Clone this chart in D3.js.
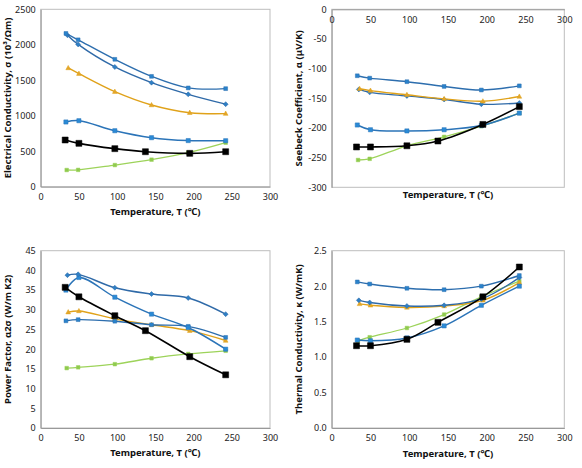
<!DOCTYPE html>
<html>
<head>
<meta charset="utf-8">
<script src="https://cdn.jsdelivr.net/npm/d3@7/dist/d3.min.js"></script>
<style>
  body { margin: 0; background: #fff; }
  svg { display: block; font-family: "Noto Sans", "Open Sans", sans-serif; }
  .tick text { font-size: 9px; fill: #222; }
  .ttl { font-size: 9.5px; font-weight: bold; fill: #111; }
</style>
</head>
<body>
<svg id="chart" width="582" height="468"></svg>
<script>
// ---- Data (temperatures in °C) ----
const tempBlack  = [32, 50, 97, 137, 195, 242];
const tempBlueA  = [33, 49, 97, 145, 193, 242];
const tempBlueB  = [35, 49, 97, 145, 193, 242];
const tempBlueC  = [33, 50, 97, 145, 193, 242];
const tempOrange = [36, 50, 97, 145, 195, 242];
const tempGreen  = [34, 49, 97, 145, 193, 242];

// Electrical conductivity σ (10^3/Ωm)
const sigmaBlueA  = [2160, 2070, 1795, 1555, 1392, 1382];
const sigmaBlueB  = [2135, 2005, 1687, 1466, 1302, 1163];
const sigmaOrange = [1673, 1593, 1339, 1151, 1043, 1030];
const sigmaBlueC  = [912, 930, 789, 691, 650, 648];
const sigmaBlack  = [658, 611, 536, 493, 470, 493];
const sigmaGreen  = [235, 237, 305, 381, 479, 620];

// Seebeck coefficient α (μV/K)
const seebeckBlueA  = [-112, -116, -122, -130, -136, -129];
const seebeckOrange = [-134, -137, -144, -151, -155, -147];
const seebeckBlueB  = [-135, -140, -146, -152, -160, -158];
const seebeckBlueC  = [-195, -203, -205, -203, -196, -175];
const seebeckBlack  = [-232, -232, -230, -222, -194, -164];
const seebeckGreen  = [-254, -252, -230, -215, -197, -175];

// Power factor α²σ
const pfBlueB  = [38.8, 39.0, 35.6, 34.0, 33.0, 28.9];
const pfBlueC  = [35.0, 38.2, 33.2, 28.9, 25.5, 20.0];
const pfBlack  = [35.7, 33.3, 28.5, 24.7, 18.1, 13.5];
const pfOrange = [29.4, 29.7, 27.7, 26.2, 24.7, 22.2];
const pfBlueA  = [27.2, 27.5, 27.1, 26.2, 25.8, 23.0];
const pfGreen  = [15.2, 15.4, 16.2, 17.7, 18.8, 19.6];

// Thermal conductivity κ (W/mK)
const kappaBlueA  = [2.06, 2.03, 1.97, 1.95, 2.00, 2.15];
const kappaBlueB  = [1.80, 1.77, 1.72, 1.73, 1.82, 2.12];
const kappaOrange = [1.75, 1.73, 1.70, 1.72, 1.80, 2.05];
const kappaGreen  = [1.23, 1.28, 1.41, 1.60, 1.85, 2.07];
const kappaBlack  = [1.16, 1.16, 1.25, 1.49, 1.85, 2.27];
const kappaBlueC  = [1.24, 1.23, 1.27, 1.44, 1.73, 2.00];

const xTicks = [0, 50, 100, 150, 200, 250, 300];
const xTitle = "Temperature, T (\u2103)";

// ---- Styles ----
const styles = {
  black:  { line: "#000000", fill: "#000000", shape: "square", size: 6, width: 1.6 },
  green:  { line: "#9dd35a", fill: "#8fca4e", shape: "square", size: 3.6, width: 1.3 },
  orange: { line: "#e0a21a", fill: "#e3a62a", shape: "triangle", size: 4.3, width: 1.4 },
  blueA:  { line: "#2d6eae", fill: "#2a83cc", shape: "square", size: 3.8, width: 1.4 },
  blueB:  { line: "#2f6aa8", fill: "#2f7fc4", shape: "diamond", size: 4, width: 1.4 },
  blueC:  { line: "#2b74b8", fill: "#2a8ad6", shape: "square", size: 4.2, width: 1.5 }
};

function mk(name, xs, ys) { return { name, pts: xs.map((x, i) => [x, ys[i]]) }; }

const panels = [
  { x0: 40.7, x1: 270, y0: 9.3, y1: 186.7, yDomain: [0, 2500], yTicks: [0,500,1000,1500,2000,2500],
    yFmt: d => d, xAxisTop: false, xLabY: 197, titleY: 215,
    ylabel: "Electrical Conductivity, \u03c3 (10\u00b3/\u03a9m)",
    series: [mk("green", tempGreen, sigmaGreen), mk("blueC", tempBlueC, sigmaBlueC), mk("orange", tempOrange, sigmaOrange),
             mk("blueB", tempBlueB, sigmaBlueB), mk("blueA", tempBlueA, sigmaBlueA), mk("black", tempBlack, sigmaBlack)] },
  { x0: 331.7, x1: 564.3, y0: 9.3, y1: 187.3, yDomain: [-300, 0], yTicks: [-300,-250,-200,-150,-100,-50,0],
    yFmt: d => d, xAxisTop: true, xLabY: 20, titleY: 198,
    ylabel: "Seebeck Coefficient, \u03b1 (\u03bcV/K)",
    series: [mk("green", tempGreen, seebeckGreen), mk("blueC", tempBlueC, seebeckBlueC), mk("blueB", tempBlueB, seebeckBlueB),
             mk("orange", tempOrange, seebeckOrange), mk("blueA", tempBlueA, seebeckBlueA), mk("black", tempBlack, seebeckBlack)] },
  { x0: 40.7, x1: 270, y0: 250.7, y1: 428, yDomain: [0, 45], yTicks: [0,5,10,15,20,25,30,35,40,45],
    yFmt: d => d, xAxisTop: false, xLabY: 437.5, titleY: 456,
    ylabel: "Power Factor, \u03b12\u03c3 (W/m K2)",
    series: [mk("green", tempGreen, pfGreen), mk("orange", tempOrange, pfOrange), mk("blueA", tempBlueA, pfBlueA),
             mk("blueC", tempBlueC, pfBlueC), mk("blueB", tempBlueB, pfBlueB), mk("black", tempBlack, pfBlack)] },
  { x0: 331.7, x1: 564.3, y0: 250.7, y1: 428, yDomain: [0, 2.5], yTicks: [0,0.5,1,1.5,2,2.5],
    yFmt: d3.format(".1f"), xAxisTop: false, xLabY: 437.5, titleY: 456.5,
    ylabel: "Thermal Conductivity, \u03ba (W/mK)",
    series: [mk("green", tempGreen, kappaGreen), mk("orange", tempOrange, kappaOrange), mk("blueB", tempBlueB, kappaBlueB),
             mk("blueA", tempBlueA, kappaBlueA), mk("blueC", tempBlueC, kappaBlueC), mk("black", tempBlack, kappaBlack)] }
];

const svg = d3.select("#chart");

function markerPath(shape, s) {
  if (shape === "square") return `M${-s/2},${-s/2}h${s}v${s}h${-s}Z`;
  if (shape === "diamond") return `M0,${-s/1.6}L${s/1.6},0L0,${s/1.6}L${-s/1.6},0Z`;
  if (shape === "triangle") return `M0,${-s*0.6}L${s*0.55},${s*0.4}L${-s*0.55},${s*0.4}Z`;
}

panels.forEach(p => {
  const x = d3.scaleLinear().domain([0, 300]).range([p.x0, p.x1]);
  const y = d3.scaleLinear().domain(p.yDomain).range([p.y1, p.y0]);
  const g = svg.append("g");

  // plot box
  g.append("rect").attr("x", p.x0).attr("y", p.y0).attr("width", p.x1 - p.x0).attr("height", p.y1 - p.y0)
    .attr("fill", "none").attr("stroke", "#bdbdbd").attr("stroke-width", 1);

  // y axis
  const ya = g.append("g").attr("transform", `translate(${p.x0},0)`)
    .call(d3.axisLeft(y).tickValues(p.yTicks).tickFormat(p.yFmt).tickSize(0).tickPadding(5));
  ya.select(".domain").attr("stroke", "#999");
  ya.selectAll(".tick text").attr("font-family", "Noto Sans").attr("font-size", 9);

  // x axis
  const xAxisY = p.xAxisTop ? p.y0 : p.y1;
  const xa = g.append("g").attr("transform", `translate(0,${xAxisY})`)
    .call(d3.axisBottom(x).tickValues(xTicks).tickSize(0).tickPadding(5));
  xa.select(".domain").attr("stroke", "#999");
  xa.selectAll(".tick text").attr("font-family", "Noto Sans").attr("font-size", 9)
    .attr("dy", null).attr("y", p.xLabY - xAxisY + 3);

  // titles
  g.append("text").attr("class", "ttl").attr("x", (p.x0 + p.x1) / 2).attr("y", p.titleY)
    .attr("text-anchor", "middle").text(xTitle);
  const cy = (p.y0 + p.y1) / 2;
  g.append("text").attr("class", "ttl").attr("transform", `translate(${p.x0 - 30},${cy}) rotate(-90)`)
    .attr("text-anchor", "middle").text(p.ylabel);

  // series
  const line = d3.line().x(d => x(d[0])).y(d => y(d[1])).curve(d3.curveCatmullRom.alpha(0.5));
  p.series.forEach(s => {
    const st = styles[s.name];
    g.append("path").attr("d", line(s.pts)).attr("fill", "none")
      .attr("stroke", st.line).attr("stroke-width", st.width);
    g.selectAll(null).data(s.pts).join("path")
      .attr("transform", d => `translate(${x(d[0])},${y(d[1])})`)
      .attr("d", markerPath(st.shape, st.size))
      .attr("fill", st.fill).attr("stroke", st.line).attr("stroke-width", 0.5);
  });
});
</script>
</body>
</html>
